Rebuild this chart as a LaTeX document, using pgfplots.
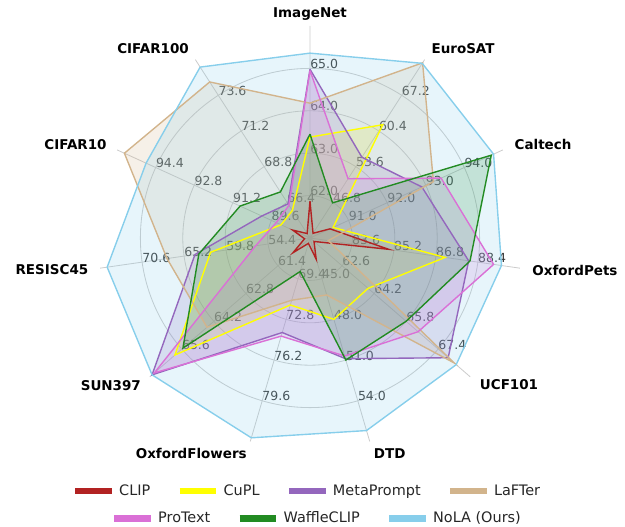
\documentclass[border=0pt]{standalone}
\usepackage{pgfplots}
\pgfplotsset{compat=1.18}
\usepackage{pgfplotstable}
\usepgfplotslibrary{polar}
\usepackage{fontspec}
\setmainfont{DejaVu Sans}

\definecolor{cCLIP}{RGB}{178,34,34}
\definecolor{cCuPL}{RGB}{255,255,0}
\definecolor{cMeta}{RGB}{148,103,189}
\definecolor{cLaF}{RGB}{210,180,140}
\definecolor{cPro}{RGB}{218,112,214}
\definecolor{cWaf}{RGB}{34,139,34}
\definecolor{cNoLA}{RGB}{135,206,235}

% one row per dataset (clockwise from ImageNet), last row closes the polygon
% base/step: value at the centre and value per grid ring of that spoke
\pgfplotstableread{
ang      base step CLIP  CuPL  Meta  LaFTer ProText Waffle NoLA
90       61   1    61.87 63.38 64.98 64.18  64.95   63.45  65.36
57.2727  40   6.8  40.9  61.6  55.4  73.4   51.3    46.7   73.3
24.5455  90   1    90.52 90.6  92.9  93.2   93.4    94.7   94.76
351.8182 82   1.6  85.0  87.15 88.05 82.7   89.0    88.1   89.3
319.0909 61   1.6  61.2  63.9  67.9  68.2   66.4    65.8   68.3
286.3636 42   3    43.56 48.0  50.9  46.2   50.7    51.0   56.2
253.6364 66   3.4  66.45 71.6  73.9  71.2   74.2    68.8   82.7
220.9091 60   1.4  60.74 65.9  66.9  64.5   66.8    65.55  66.9
188.1818 49   5.4  49.7  61.8  63.8  67.4   56.0    63.3   75.1
155.4545 88   1.6  88.72 89.2  90.0  95.7   89.4    90.9   94.8
122.7273 64   2.4  64.3  65.85 66.3  74.5   66.2    67.1   75.5
90       61   1    61.87 63.38 64.98 64.18  64.95   63.45  65.36
}\data

\newcommand\tl[5]{%
  \node[anchor=base west,inner sep=0pt,text=black!78,font=\fontsize{9}{10}\selectfont] at (axis cs:#1,1) {#2};
  \node[anchor=base west,inner sep=0pt,text=black!78,font=\fontsize{9}{10}\selectfont] at (axis cs:#1,2) {#3};
  \node[anchor=base west,inner sep=0pt,text=black!78,font=\fontsize{9}{10}\selectfont] at (axis cs:#1,3) {#4};
  \node[anchor=base west,inner sep=0pt,text=black!78,font=\fontsize{9}{10}\selectfont] at (axis cs:#1,4) {#5};
}
% fill of one series, then (later) its outline on top of all fills
\newcommand\radarfill[2]{\addplot[draw=none, fill=#1, fill opacity=0.2, mark=none, forget plot]
  table[x=ang, y expr={(\thisrow{#2}-\thisrow{base})/\thisrow{step}}] {\data};}
\newcommand\radarline[2]{\addplot[draw=#1, line width=1.0pt, mark=none, forget plot]
  table[x=ang, y expr={(\thisrow{#2}-\thisrow{base})/\thisrow{step}}] {\data};}

\pgfplotsset{
  legrow/.style={
    at={(0,0)}, anchor=center, scale only axis, width=305.28pt, height=305.28pt,
    hide axis, xmin=0, xmax=1, ymin=0, ymax=1,
    legend image code/.code={\draw[line width=4.7pt] (0pt,0pt) -- (26.4pt,0pt);},
    legend style={draw=none, fill=none, anchor=center,
      font=\fontsize{10.4}{12}\selectfont, text=black!85,
      nodes={inner sep=0pt},
      /tikz/every odd column/.append style={column sep=3pt},
      /tikz/every even column/.append style={column sep=18.7pt}},
  },
}

\begin{document}
\begin{tikzpicture}
\begin{polaraxis}[
  at={(0,0)}, anchor=center,
  scale only axis, width=305.28pt, height=305.28pt,
  xmin=0, xmax=360, ymin=0, ymax=5,
  xtick={90,57.2727,24.5455,351.8182,319.0909,286.3636,253.6364,220.9091,188.1818,155.4545,122.7273},
  ytick={1,2,3,4},
  xticklabels={}, yticklabels={},
  major tick length=0pt,
  grid=major,
  major grid style={draw=black!20, line width=0.6pt},
  axis line style={draw=none},
  clip=false,
]
\tl{90}{62.0}{63.0}{64.0}{65.0}
\tl{57.2727}{46.8}{53.6}{60.4}{67.2}
\tl{24.5455}{91.0}{92.0}{93.0}{94.0}
\tl{351.8182}{83.6}{85.2}{86.8}{88.4}
\tl{319.0909}{62.6}{64.2}{65.8}{67.4}
\tl{286.3636}{45.0}{48.0}{51.0}{54.0}
\tl{253.6364}{69.4}{72.8}{76.2}{79.6}
\tl{220.9091}{61.4}{62.8}{64.2}{65.6}
\tl{188.1818}{54.4}{59.8}{65.2}{70.6}
\tl{155.4545}{89.6}{91.2}{92.8}{94.4}
\tl{122.7273}{66.4}{68.8}{71.2}{73.6}

\radarfill{cCLIP}{CLIP}
\radarfill{cCuPL}{CuPL}
\radarfill{cMeta}{Meta}
\radarfill{cLaF}{LaFTer}
\radarfill{cPro}{ProText}
\radarfill{cWaf}{Waffle}
\radarfill{cNoLA}{NoLA}

\radarline{cCLIP}{CLIP}
\radarline{cCuPL}{CuPL}
\radarline{cMeta}{Meta}
\radarline{cLaF}{LaFTer}
\radarline{cPro}{ProText}
\radarline{cWaf}{Waffle}
\radarline{cNoLA}{NoLA}
\end{polaraxis}

% category labels
\begin{scope}[every node/.style={anchor=base, inner sep=0pt, font=\fontsize{9.7}{11}\selectfont\bfseries}]
\node at (0pt,158.9pt) {ImageNet};
\node at (110.2pt,132.5pt) {EuroSAT};
\node at (167.8pt,63.4pt) {Caltech};
\node at (190.8pt,-27.1pt) {OxfordPets};
\node at (143.3pt,-109.4pt) {UCF101};
\node at (57.4pt,-158.6pt) {DTD};
\node at (-85.5pt,-158.6pt) {OxfordFlowers};
\node at (-143.4pt,-109.9pt) {SUN397};
\node at (-185.8pt,-26.6pt) {RESISC45};
\node at (-168.8pt,63.4pt) {CIFAR10};
\node at (-113.0pt,132.5pt) {CIFAR100};
\end{scope}

\begin{axis}[legrow, legend columns=4, legend style={at={(0.4906,-0.0968)}}]
\addlegendimage{cCLIP}\addlegendentry{CLIP}
\addlegendimage{cCuPL}\addlegendentry{CuPL}
\addlegendimage{cMeta}\addlegendentry{MetaPrompt}
\addlegendimage{cLaF}\addlegendentry{LaFTer}
\end{axis}
\begin{axis}[legrow, legend columns=3, legend style={at={(0.5138,-0.161)}}]
\addlegendimage{cPro}\addlegendentry{ProText}
\addlegendimage{cWaf}\addlegendentry{WaffleCLIP}
\addlegendimage{cNoLA}\addlegendentry{NoLA (Ours)}
\end{axis}

\pgfresetboundingbox
\path[use as bounding box] (-223.2pt,171.36pt) rectangle (226.8pt,-208.08pt);
\end{tikzpicture}
\end{document}
